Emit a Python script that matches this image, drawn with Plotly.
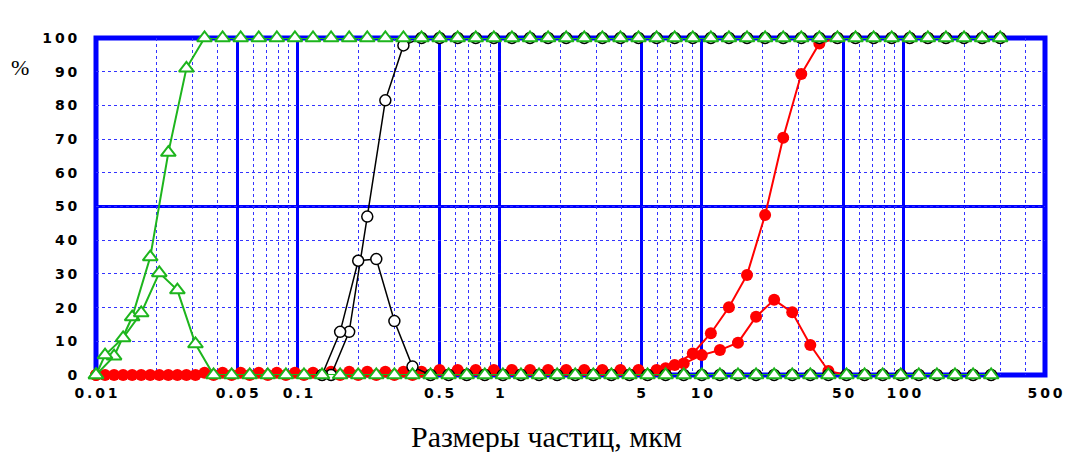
import plotly.graph_objects as go

# ---- data ----
# size-class upper edges, µm (cumulative curves are plotted here)
x_edges = [0.01, 0.01229, 0.015104, 0.018562, 0.022813, 0.028036, 0.034456, 0.042345,
           0.05204, 0.063957, 0.078604, 0.096597, 0.11872, 0.1459, 0.1793, 0.22036,
           0.27081, 0.33282, 0.40904, 0.50268, 0.6178, 0.75924, 0.93306, 1.1467,
           1.4093, 1.732, 2.1286, 2.616, 3.215, 3.9511, 4.856, 5.9679, 7.3341,
           9.0138, 11.078, 13.614, 16.732, 20.563, 25.271, 31.058, 38.17, 46.911,
           57.651, 70.854, 87.08, 107.0, 131.52, 161.62, 198.65, 244.1, 300.0]
# size-class centres, µm (differential curves), starting at 0.01
x_mids = [0.01, 0.011086, 0.013625, 0.016744, 0.020578, 0.02529, 0.03108, 0.038197,
          0.046943, 0.057691, 0.070902, 0.08714, 0.10709, 0.13161, 0.16174, 0.19877,
          0.24429, 0.30022, 0.36896, 0.45346, 0.55727, 0.68489, 0.84169, 1.0344,
          1.2712, 1.5623, 1.9201, 2.3597, 2.9001, 3.5641, 4.3802, 5.3833, 6.6159,
          8.1305, 9.9926, 12.281, 15.092, 18.549, 22.796, 28.015, 34.431, 42.315,
          52.005, 63.911, 78.548, 96.536, 118.62, 145.8, 179.17, 220.22, 270.61]

green_cum = [0, 5.6, 17.2, 35, 66, 91, 100, 100, 100, 100, 100, 100, 100, 100, 100, 100,
             100, 100, 100, 100, 100, 100, 100, 100, 100, 100, 100, 100, 100, 100, 100,
             100, 100, 100, 100, 100, 100, 100, 100, 100, 100, 100, 100, 100, 100, 100,
             100, 100, 100, 100, 100]
green_diff = [0, 5.9, 11, 18.4, 30.3, 25.2, 9.2, 0, 0, 0, 0, 0, 0, 0, 0, 0, 0, 0, 0, 0,
              0, 0, 0, 0, 0, 0, 0, 0, 0, 0, 0, 0, 0, 0, 0, 0, 0, 0, 0, 0, 0, 0, 0, 0,
              0, 0, 0, 0, 0, 0, 0]

black_cum = [None, None, None, None, None, None, None, None, None, None, None, None, None,
             0, 12.8, 47, 81.5, 97.8, 100, 100, 100, 100, 100, 100, 100, 100, 100, 100,
             100, 100, 100, 100, 100, 100, 100, 100, 100, 100, 100, 100, 100, 100, 100,
             100, 100, 100, 100, 100, 100, 100, 100]
black_diff = [None, None, None, None, None, None, None, None, None, None, None, None, None,
              0, 12.8, 33.9, 34.4, 16, 2.5, 0, 0, 0, 0, 0, 0, 0, 0, 0, 0, 0, 0, 0, 0,
              0, 0, 0, 0, 0, 0, 0, 0, 0, 0, 0, 0, 0, 0, 0, 0, 0, 0]

red_cum = [0, 0, 0, 0, 0, 0, 0.7, 0.7, 0.7, 0.7, 0.7, 0.7, 0.7, 1.0, 1.0, 1.0, 1.0, 1.0,
           1.0, 1.5, 1.5, 1.5, 1.5, 1.5, 1.5, 1.5, 1.5, 1.5, 1.5, 1.5, 1.5, 1.5, 3, 6.4,
           12.4, 20.1, 29.7, 47.5, 70.4, 89.3, 98.4, 100, 100, 100, 100, 100, 100, 100,
           100, 100, 100]
red_diff = [0, 0, 0, 0, 0, 0, 0, 0, 0, 0, 0, 0, 0, 0, 0, 0, 0, 0, 0, 0, 0, 0, 0, 0, 0, 0,
            0, 0, 0, 0, 0, 0, 2, 3.4, 5.9, 7.4, 9.6, 17.3, 22.3, 18.6, 8.9, 1.2, 0, 0, 0,
            0, 0, 0, 0, 0, 0]

x_major = [0.01, 0.05, 0.1, 0.5, 1, 5, 10, 50, 100, 500]
x_major_text = ["0.01", "0.05", "0.1", "0.5", "1", "5", "10", "50", "100", "500"]
x_minor = [0.02, 0.03, 0.04, 0.06, 0.07, 0.08, 0.09, 0.2, 0.3, 0.4, 0.6, 0.7, 0.8, 0.9,
           2, 3, 4, 6, 7, 8, 9, 20, 30, 40, 60, 70, 80, 90, 200, 300, 400]
y_ticks = [0, 10, 20, 30, 40, 50, 60, 70, 80, 90, 100]

x_title = "Размеры частиц, мкм"
y_title = "%"

# ---- styles ----
BLUE = "#0000FF"
GRID_BLUE = "#3333FF"
GREEN = "#1DB51D"
RED = "#FF0000"
TS = "\u2009"


def spaced(s):
    return TS.join(list(s))


fig = go.Figure()

fig.add_trace(go.Scatter(x=x_edges, y=red_cum, mode="lines+markers",
                         line=dict(color=RED, width=2),
                         marker=dict(symbol="circle", size=12, color=RED),
                         cliponaxis=False, showlegend=False))
fig.add_trace(go.Scatter(x=x_mids, y=red_diff, mode="lines+markers",
                         line=dict(color=RED, width=2),
                         marker=dict(symbol="circle", size=12, color=RED),
                         cliponaxis=False, showlegend=False))
for xs, ys in ((x_edges, black_cum), (x_mids, black_diff)):
    fig.add_trace(go.Scatter(x=xs, y=ys, mode="lines+markers",
                             line=dict(color="black", width=1.5),
                             marker=dict(symbol="circle", size=11, color="white",
                                         line=dict(color="black", width=1.5)),
                             cliponaxis=False, showlegend=False))
for xs, ys in ((x_edges, green_cum), (x_mids, green_diff)):
    fig.add_trace(go.Scatter(x=xs, y=ys, mode="lines+markers",
                             line=dict(color=GREEN, width=2),
                             marker=dict(symbol="triangle-up", size=13, color="white",
                                         line=dict(color=GREEN, width=2)),
                             cliponaxis=False, showlegend=False))

tick_font = dict(family="DejaVu Sans", size=14, color="black", weight="bold")

fig.update_xaxes(type="log", range=[-2, 2.69897],
                 tickmode="array", tickvals=x_major,
                 ticktext=[spaced(t) for t in x_major_text],
                 tickfont=tick_font, ticks="outside", ticklen=5,
                 tickcolor="rgba(0,0,0,0)",
                 showgrid=True, gridcolor=BLUE, gridwidth=3,
                 minor=dict(tickmode="array", tickvals=x_minor, showgrid=True,
                            gridcolor=GRID_BLUE, gridwidth=1, griddash="3px,3px",
                            ticks=""),
                 showline=False, zeroline=False)
fig.update_yaxes(range=[0, 100], tickmode="array", tickvals=y_ticks,
                 ticktext=[spaced(str(v)) for v in y_ticks],
                 tickfont=tick_font, ticks="outside", ticklen=15,
                 tickcolor="rgba(0,0,0,0)",
                 showgrid=True, gridcolor=GRID_BLUE, gridwidth=1, griddash="3px,3px",
                 showline=False, zeroline=False)

# thick frame and the 50 % line
fig.add_shape(type="rect", xref="paper", yref="paper", x0=0, x1=1, y0=0, y1=1,
              line=dict(color=BLUE, width=5), layer="between")
fig.add_shape(type="line", xref="paper", yref="y", x0=0, x1=1, y0=50, y1=50,
              line=dict(color=BLUE, width=3), layer="between")

fig.add_annotation(text=x_title, xref="paper", yref="paper", x=0.475, y=-0.182,
                   xanchor="center", yanchor="middle", showarrow=False,
                   font=dict(family="Liberation Serif", size=30, color="black"))
fig.add_annotation(text=y_title, xref="paper", yref="paper", x=-0.08, y=0.911,
                   xanchor="center", yanchor="middle", showarrow=False,
                   font=dict(family="Liberation Serif", size=22, color="black"))

fig.update_layout(width=1075, height=452,
                  margin=dict(l=96, r=28, t=38, b=77),
                  plot_bgcolor="white", paper_bgcolor="white",
                  showlegend=False)

fig.write_html("out.html",
               config={"displayModeBar": False},
               post_script="document.body.style.margin='0';"
                           "document.body.style.overflow='hidden';")
